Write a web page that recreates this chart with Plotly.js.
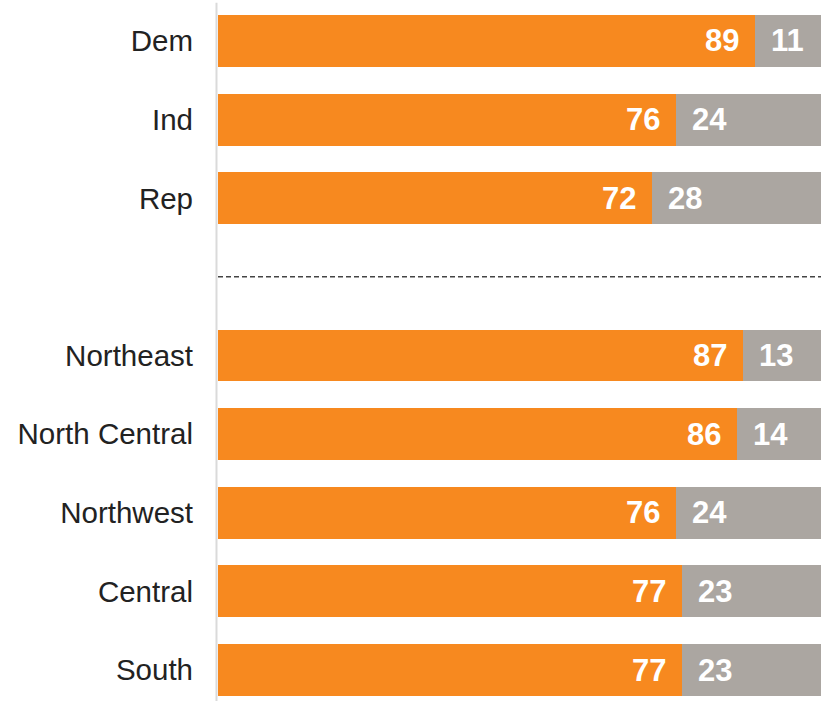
<!DOCTYPE html>
<html>
<head>
<meta charset="utf-8">
<script src="https://cdn.plot.ly/plotly-3.0.1.min.js"></script>
<style>html,body{margin:0;padding:0;background:#fff;}#chart{width:821px;height:701px;}</style>
</head>
<body>
<div id="chart"></div>
<script>
var categories = ["Dem", "Ind", "Rep", " ", "Northeast", "North Central", "Northwest", "Central", "South"];
var yesValues = [89, 76, 72, null, 87, 86, 76, 77, 77];
var noValues = [11, 24, 28, null, 13, 14, 24, 23, 23];

var orange = "#F7891F";
var grey = "#ABA6A1";

var traces = [
  {type: "bar", orientation: "h", y: categories, x: yesValues, marker: {color: orange}, hoverinfo: "none", showlegend: false},
  {type: "bar", orientation: "h", y: categories, x: noValues, marker: {color: grey}, hoverinfo: "none", showlegend: false}
];

var labelFont = {family: "Liberation Sans, Arial, sans-serif", size: 31, color: "#ffffff", weight: "bold"};
var annotations = [];
for (var i = 0; i < categories.length; i++) {
  if (yesValues[i] === null) continue;
  annotations.push({xref: "x", yref: "y", x: yesValues[i], y: categories[i], text: String(yesValues[i]),
    xanchor: "right", yanchor: "middle", xshift: -14, yshift: 0, showarrow: false, font: labelFont});
  annotations.push({xref: "x", yref: "y", x: yesValues[i], y: categories[i], text: String(noValues[i]),
    xanchor: "left", yanchor: "middle", xshift: 14, yshift: 0, showarrow: false, font: labelFont});
}

var layout = {
  width: 821, height: 701,
  margin: {l: 218, r: 0, t: 0, b: 0},
  paper_bgcolor: "#ffffff", plot_bgcolor: "#ffffff",
  barmode: "stack",
  bargap: 0.34,
  xaxis: {range: [0, 100], visible: false, fixedrange: true},
  yaxis: {type: "category", categoryorder: "array", categoryarray: categories,
    range: [8.394, -0.521], showgrid: false, zeroline: false, showline: false, ticks: "",
    ticklabelstandoff: 24,
    tickfont: {family: "Liberation Sans, Arial, sans-serif", size: 29.5, color: "#222222"}},
  shapes: [
    {type: "line", xref: "paper", yref: "paper", x0: -0.0025, x1: -0.0025, y0: 0, y1: 0.996,
      line: {color: "#DADADA", width: 2}},
    {type: "line", xref: "paper", yref: "y", x0: 0, x1: 1, y0: 3, y1: 3,
      line: {color: "#444444", width: 1.5, dash: "5px,3px"}}
  ],
  annotations: annotations
};

Plotly.newPlot("chart", traces, layout, {displayModeBar: false, staticPlot: true});
</script>
</body>
</html>
